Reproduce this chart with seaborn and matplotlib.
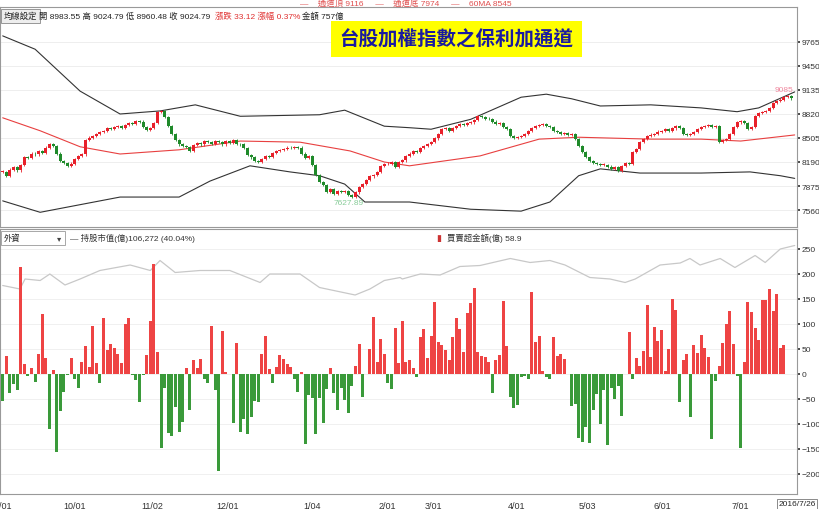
import matplotlib
matplotlib.use("Agg")
import matplotlib.pyplot as plt
import seaborn as sns
import numpy as np
import pandas as pd

sns.set_theme(style="white")
plt.rcParams['font.family'] = ['Liberation Sans', 'Noto Sans CJK TC', 'DejaVu Sans']

closes = [8060,8010,8090,8120,8080,8150,8260,8240,8300,8290,
          8330,8310,8380,8420,8400,8300,8200,8180,8140,8170,
          8230,8270,8290,8480,8510,8530,8560,8580,8600,8630,
          8620,8650,8660,8640,8680,8700,8690,8730,8720,8650,
          8610,8640,8700,8850,8860,8780,8660,8560,8480,8420,
          8400,8390,8330,8410,8440,8420,8460,8450,8430,8470,
          8450,8420,8460,8440,8480,8430,8420,8370,8280,8250,
          8200,8190,8230,8270,8260,8310,8330,8350,8360,8380,
          8370,8390,8380,8300,8240,8270,8150,8020,7930,7890,
          7800,7830,7770,7810,7800,7810,7760,7730,7790,7860,
          7900,7950,8000,8020,8060,8140,8160,8170,8190,8120,
          8190,8210,8270,8300,8330,8320,8370,8400,8430,8450,
          8500,8560,8620,8630,8600,8640,8660,8690,8680,8700,
          8710,8740,8790,8780,8760,8750,8720,8690,8700,8650,
          8620,8530,8510,8520,8530,8560,8600,8640,8660,8680,
          8690,8660,8650,8600,8580,8560,8570,8550,8560,8490,
          8400,8320,8260,8200,8180,8160,8150,8150,8130,8100,
          8120,8070,8140,8180,8170,8320,8360,8450,8490,8530,
          8550,8560,8590,8600,8620,8600,8630,8660,8640,8560,
          8550,8560,8580,8620,8650,8660,8680,8650,8660,8450,
          8480,8490,8560,8650,8710,8730,8700,8620,8650,8790,
          8830,8850,8860,8900,8960,8990,9010,9040,9060,9025]

net_buy = [-53,37,-37,-20,-32,215,20,-3,13,-15,41,120,33,-110,8,-155,-73,-35,-2,33,
           -9,-28,25,57,15,97,23,-17,112,49,60,52,40,23,101,113,-2,-12,-55,-2,
           39,107,220,45,-147,-28,-118,-123,-65,-115,-95,13,-72,28,12,30,-10,-17,97,-32,
           -193,87,5,0,-97,62,-115,-89,-119,-85,-53,-55,41,76,11,-17,15,39,30,21,
           15,-9,-35,4,-139,-41,-48,-120,-48,-97,-30,12,-37,-72,-27,-51,-77,-23,16,60,
           -45,0,50,115,25,70,41,-17,-30,92,23,107,
           25,28,12,-5,75,91,33,77,145,65,58,49,28,75,113,91,45,123,143,173,
           45,36,35,24,-37,28,38,147,56,-45,-68,-61,-6,-3,-10,165,64,77,6,-5,
           -10,74,37,40,30,0,-63,-60,-127,-136,-106,-138,-72,-40,-100,-32,-142,-28,-50,-24,
           -83,0,85,-10,33,17,46,139,35,94,66,89,6,50,151,129,-55,28,41,-85,
           59,43,78,52,35,-130,-13,16,62,101,126,61,-3,-148,24,145,125,93,69,149,
           148,171,127,160,52,58]

band_day = [0,9,21.5,32.6,43.7,53.5,66,88,95,106,113,119,130,144,151,158,166,180,194,204,210,220]
upper = [9845,9670,9120,8820,8860,8940,8790,8810,8870,8660,8640,8620,8750,9040,9080,9020,8925,8940,8900,8850,8900,9110]
ma_day = [0,10.4,21.5,32.6,49,66,82.6,96.5,106,113,132.6,149,160,180,194,205,220]
ma60 = [8770,8600,8390,8295,8350,8465,8450,8335,8190,8140,8270,8490,8515,8490,8490,8465,8545]
low_day = [0,10.4,32.6,43.7,49,57.6,68.7,79.8,88,95,100.6,106,113,130,144,152,160,166,177,194,207.6,216,220]
lower = [7680,7530,7730,7730,7730,7940,8140,8060,8010,7900,7665,7665,7665,7570,7545,7665,8010,8100,8045,8045,8060,8010,7975]

hold_day = [0,4.8,6.2,10.4,13.1,17.3,21.5,27,35.4,41,43.7,47.9,54.8,63.1,71.5,74.2,82.6,88,97.9,102,106,110.4,
            111,116,121.5,127,132.6,141,146.5,152,156.2,163.1,168.7,172.9,175.7,182.6,188.2,190.9,193.7,199.3,203.4,209,211.8,216,220]
hold = [177,170,190,187,200,178,190,207,218,207,227,203,207,207,183,200,200,173,158,170,187,193,
        190,200,198,215,217,231,223,227,218,193,190,183,190,218,222,231,218,231,213,237,223,250,257]

tick_labels = ['9/01','10/01','11/02','12/01','1/04','2/01','3/01','4/01','5/03','6/01','7/01']
tick_px = [3,75,152,228,312,387,433,517,587,662,740]

n = len(closes)
days = np.arange(n)
nb = (net_buy + [0]*n)[:n]
df = pd.DataFrame({'day': days, 'close': closes, 'net': nb})
df['open'] = [closes[0]] + closes[:-1]

RED = '#e8202a'; GREEN = '#1f8a2a'
fig = plt.figure(figsize=(8.2, 5.1), dpi=100)
W, H = 820, 510
AW = 797
ax1 = fig.add_axes([0/W, 1-228/H, AW/W, 220/H])
ax2 = fig.add_axes([0/W, 1-495/H, AW/W, 265/H], sharex=ax1)

xl = (-0.75, (AW - 2.7) / 3.6)
for ax in (ax1, ax2):
    ax.set_facecolor('white')
    for s in ax.spines.values():
        s.set_color('#999999'); s.set_linewidth(0.8)
ax1.set_ylim(7337, 10224)
yt = [7560, 7875, 8190, 8505, 8820, 9135, 9450, 9765]
ax1.set_yticks(yt)
ax1.yaxis.tick_right()
ax1.tick_params(axis='y', labelsize=6, colors='#333333', length=2, pad=1)
ax1.tick_params(axis='x', bottom=False, labelbottom=False)
for v in yt:
    ax1.axhline(v, color='#eeeeee', lw=0.7, zorder=0)

sns.lineplot(x=band_day, y=upper, ax=ax1, color='#333333', lw=0.8)
sns.lineplot(x=low_day, y=lower, ax=ax1, color='#333333', lw=0.8)
sns.lineplot(x=ma_day, y=ma60, ax=ax1, color='#e84040', lw=0.8)

up = df['close'] >= df['open']
bot = np.minimum(df['open'], df['close'])
hgt = np.abs(df['close'] - df['open']).clip(lower=8)
cols = np.where(up, RED, GREEN)
ax1.vlines(df['day'], bot - 15, bot + hgt + 15, color=cols, lw=0.6, zorder=2)
ax1.bar(df['day'], hgt, bottom=bot, width=0.8, color=cols, zorder=3, linewidth=0)
ax1.text(96, 7700, '7627.89', color='#88cc99', fontsize=6, ha='center', va='top')
ax1.text(219.5, 9098, '9085', color='#f08aa0', fontsize=6, ha='right', va='bottom')
ax1.text(0.5725, 0.855, '台股加權指數之保利加通道', transform=ax1.transAxes, fontsize=14,
         color='#1a1aa0', ha='center', va='center', fontweight='bold',
         family=['Noto Sans CJK TC'],
         bbox=dict(boxstyle='square,pad=0.45', fc='#ffff00', ec='none'))

ax2.set_ylim(-240, 290)
yt2 = [-200, -150, -100, -50, 0, 50, 100, 150, 200, 250]
ax2.set_yticks(yt2)
ax2.yaxis.tick_right()
ax2.tick_params(axis='y', labelsize=6, colors='#333333', length=2, pad=1)
for v in yt2:
    ax2.axhline(v, color='#f0f0f0', lw=0.7, zorder=0)
ax2.bar(df['day'], df['net'], width=0.8, linewidth=0,
        color=np.where(df['net'] >= 0, '#ee4444', '#3a9a3a'), zorder=3)
sns.lineplot(x=hold_day, y=hold, ax=ax2, color='#c8c8c8', lw=0.9)
ax2.set_xlim(*xl)
ticks = [(p - 2.7) / 3.6 for p in tick_px]
ax2.set_xticks(ticks)
ax2.set_xticklabels(tick_labels)
ax2.tick_params(axis='x', labelsize=6.5, colors='#333333', length=3, pad=2)
ax2.set_xlabel(''); ax2.set_ylabel(''); ax1.set_xlabel(''); ax1.set_ylabel('')

fs = 6
fig.text(4/W, 1-17/H, '均線設定', fontsize=fs, va='center', ha='left',
         bbox=dict(boxstyle='square,pad=0.3', fc='#eeeeee', ec='#888888', lw=0.6))
fig.text(39/W, 1-17/H, '開 8983.55 高 9024.79 低 8960.48 收 9024.79', fontsize=fs, va='center', color='#222222')
fig.text(215/W, 1-17/H, '漲跌 33.12 漲幅 0.37%', fontsize=fs, va='center', color='#e03030')
fig.text(302/W, 1-17/H, '金額 757億', fontsize=fs, va='center', color='#222222')
fig.text(300/W, 1-4/H, '—    通道頂 9116     —    通道底 7974     —    60MA 8545', fontsize=fs, va='center',
         color='#e05050')
fig.patches.append(plt.Rectangle((1/W, 1-246/H), 64/W, 14/H, transform=fig.transFigure,
                                 fc='white', ec='#999999', lw=0.6))
fig.text(4/W, 1-239/H, '外資', fontsize=fs, va='center', ha='left')
fig.text(59/W, 1-239/H, '▾', fontsize=6, va='center', ha='center', color='#444444', family=['DejaVu Sans'])
fig.text(70/W, 1-238/H, '— 持股市值(億)106,272 (40.04%)', fontsize=fs, va='center', color='#333333')
fig.text(436/W, 1-238/H, '▮', fontsize=6.5, va='center', color='#cc3333', family=['DejaVu Sans'])
fig.text(447/W, 1-238/H, '買賣超金額(億) 58.9', fontsize=fs, va='center', color='#333333')
fig.text(797/W, 1-505/H, '2016/7/26', fontsize=fs, va='center', ha='center',
         bbox=dict(boxstyle='square,pad=0.2', fc='white', ec='#777777', lw=0.6))

fig.savefig('out.png', dpi=100)
